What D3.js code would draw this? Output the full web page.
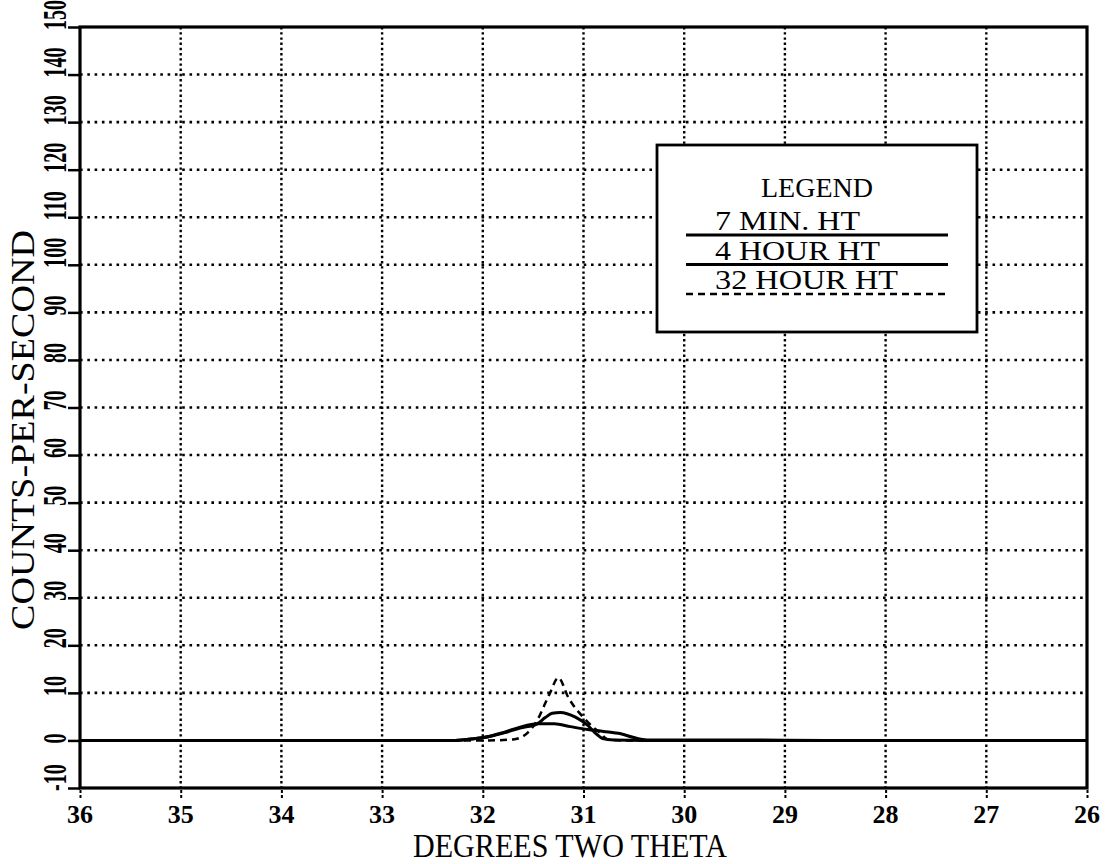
<!DOCTYPE html>
<meta charset="utf-8">
<script src="https://d3js.org/d3.v7.min.js"></script>
<style>
  body { margin: 0; background: #fff; }
  text { fill: #000; }
</style>
<body>
<div id="my_dataviz"></div>
<script>

// axis ticks (x runs from 36 down to 26)
var xTicks = [36, 35, 34, 33, 32, 31, 30, 29, 28, 27, 26]
var yTicks = [-10, 0, 10, 20, 30, 40, 50, 60, 70, 80, 90, 100, 110, 120, 130, 140, 150]
var yTickLabels = ["-10", "0", "10", "20", "30", "40", "50", "60", "70", "80", "90", "100", "110", "120", "130", "140", "150"]

// 7 MIN. HT (solid, broad)
var theta7min  = [36, 33.0, 32.3, 32.12, 31.99, 31.79, 31.63, 31.46, 31.29, 31.13, 30.96, 30.8, 30.63, 30.5, 30.37, 30.1, 29.5, 28.5, 26]
var counts7min = [0, 0, 0, 0.3, 0.6, 1.7, 2.8, 3.5, 3.5, 2.9, 2.3, 1.9, 1.4, 0.6, 0.1, 0.1, 0.1, 0, 0]

// 4 HOUR HT (solid)
var theta4hr  = [36, 33.0, 32.3, 32.12, 31.99, 31.79, 31.63, 31.46, 31.38, 31.31, 31.23, 31.08, 30.96, 30.88, 30.81, 30.7, 30.4, 29.5, 26]
var counts4hr = [0, 0, 0, 0.3, 0.6, 1.6, 2.6, 3.5, 4.8, 5.7, 5.9, 4.9, 3.2, 1.5, 0.4, 0.1, 0, 0, 0]

// 32 HOUR HT (dashed, sharp)
var theta32hr  = [36, 32.0, 31.7, 31.55, 31.45, 31.38, 31.33, 31.25, 31.15, 31.0, 30.9, 30.83, 30.76, 30.6, 26]
var counts32hr = [0, 0, 0.2, 1.7, 4.6, 7.8, 10.1, 13.2, 9.0, 4.8, 2.7, 1.5, 0.2, 0, 0]

var legendLabels = ["7 MIN. HT", "4 HOUR HT", "32 HOUR HT"]

var width = 1109, height = 864
var plotL = 80, plotR = 1087, plotT = 27, plotB = 788

var svg = d3.select("#my_dataviz")
  .append("svg")
    .attr("width", width)
    .attr("height", height)

var x = d3.scaleLinear().domain([36, 26]).range([plotL, plotR])
var y = d3.scaleLinear().domain([-10, 150]).range([plotB, plotT])

// dotted grid
svg.append("g")
  .selectAll("line")
  .data(yTicks.filter(function(d){ return d > 0 && d < 150 }))
  .enter().append("line")
    .attr("x1", plotL).attr("x2", plotR)
    .attr("y1", function(d){ return y(d) }).attr("y2", function(d){ return y(d) })
    .attr("stroke", "#000")
    .attr("stroke-width", 2.6)
    .attr("stroke-dasharray", "2.6,4.7")

svg.append("g")
  .selectAll("line")
  .data(xTicks.filter(function(d){ return d < 36 && d > 26 }))
  .enter().append("line")
    .attr("x1", function(d){ return x(d) }).attr("x2", function(d){ return x(d) })
    .attr("y1", plotT).attr("y2", plotB)
    .attr("stroke", "#000")
    .attr("stroke-width", 2.4)
    .attr("stroke-dasharray", "2.4,2.8")

// y axis: ticks outside on the left, rotated labels
var yAxis = svg.append("g")
  .attr("transform", "translate(" + plotL + ",0)")
  .call(d3.axisLeft(y).tickValues(yTicks).tickSize(12).tickFormat(""))
yAxis.select(".domain").remove()
yAxis.selectAll(".tick line").attr("stroke", "#000").attr("stroke-width", 2.5)

svg.append("g")
  .selectAll("text")
  .data(yTicks)
  .enter().append("text")
    .attr("transform", function(d){ return "translate(66," + (y(d) + 3) + ") rotate(-90) scale(1,1.65)" })
    .attr("text-anchor", "start")
    .style("font-family", "'Liberation Serif', serif")
    .style("font-weight", "bold")
    .style("font-size", "20px")
    .text(function(d, i){ return yTickLabels[i] })

// x axis: short ticks under the frame
var xAxis = svg.append("g")
  .attr("transform", "translate(0," + (plotB + 2) + ")")
  .call(d3.axisBottom(x).tickValues(xTicks).tickSize(8).tickFormat(""))
xAxis.select(".domain").remove()
xAxis.selectAll(".tick line").attr("stroke", "#000").attr("stroke-width", 2).attr("stroke-dasharray", "3,2")

svg.append("g")
  .selectAll("text")
  .data(xTicks)
  .enter().append("text")
    .attr("x", function(d){ return x(d) })
    .attr("y", 823)
    .attr("text-anchor", "middle")
    .style("font-family", "'Liberation Serif', serif")
    .style("font-weight", "bold")
    .style("font-size", "26px")
    .text(function(d){ return d })

// curves
var line = d3.line()
  .x(function(d){ return x(d[0]) })
  .y(function(d){ return y(d[1]) })
  .curve(d3.curveMonotoneX)

var series = [
  { xs: theta7min, ys: counts7min, dash: null },
  { xs: theta4hr, ys: counts4hr, dash: null },
  { xs: theta32hr, ys: counts32hr, dash: "7,5" }
]

svg.append("g")
  .selectAll("path")
  .data(series)
  .enter().append("path")
    .attr("d", function(s){ return line(d3.zip(s.xs, s.ys)) })
    .attr("fill", "none")
    .attr("stroke", "#000")
    .attr("stroke-width", function(s){ return s.dash ? 2.5 : 3 })
    .attr("stroke-dasharray", function(s){ return s.dash })

// frame
svg.append("rect")
  .attr("x", plotL).attr("y", plotT)
  .attr("width", plotR - plotL).attr("height", plotB - plotT)
  .attr("fill", "none")
  .attr("stroke", "#000")
  .attr("stroke-width", 3.2)

// axis titles
svg.append("text")
  .attr("x", 570)
  .attr("y", 857)
  .attr("text-anchor", "middle")
  .attr("textLength", 314)
  .attr("lengthAdjust", "spacingAndGlyphs")
  .style("font-family", "'Liberation Serif', serif")
  .style("font-size", "34px")
  .text("DEGREES TWO THETA")

svg.append("text")
  .attr("transform", "translate(34,430) rotate(-90)")
  .attr("text-anchor", "middle")
  .attr("textLength", 400)
  .attr("lengthAdjust", "spacingAndGlyphs")
  .style("font-family", "'Liberation Serif', serif")
  .style("font-size", "34px")
  .text("COUNTS-PER-SECOND")

// legend
var legend = svg.append("g")
legend.append("rect")
  .attr("x", 657).attr("y", 145)
  .attr("width", 320).attr("height", 187)
  .attr("fill", "#fff")
  .attr("stroke", "#000")
  .attr("stroke-width", 2.8)

legend.append("text")
  .attr("x", 817).attr("y", 197)
  .attr("text-anchor", "middle")
  .style("font-family", "'Liberation Serif', serif")
  .style("font-size", "28px")
  .text("LEGEND")

var legendWidths = [145, 165, 183]
var legendRows = legend.selectAll(".row")
  .data(series)
  .enter().append("g")
    .attr("class", "row")
    .attr("transform", function(d, i){ return "translate(0," + (i * 29.5) + ")" })

legendRows.append("line")
  .attr("x1", 686).attr("x2", 948)
  .attr("y1", 235).attr("y2", 235)
  .attr("stroke", "#000")
  .attr("stroke-width", function(s){ return s.dash ? 2.5 : 3 })
  .attr("stroke-dasharray", function(s){ return s.dash })

legendRows.append("text")
  .attr("x", 715).attr("y", 230)
  .attr("textLength", function(d, i){ return legendWidths[i] })
  .attr("lengthAdjust", "spacingAndGlyphs")
  .style("font-family", "'Liberation Serif', serif")
  .style("font-size", "28px")
  .text(function(d, i){ return legendLabels[i] })

</script>
</body>
